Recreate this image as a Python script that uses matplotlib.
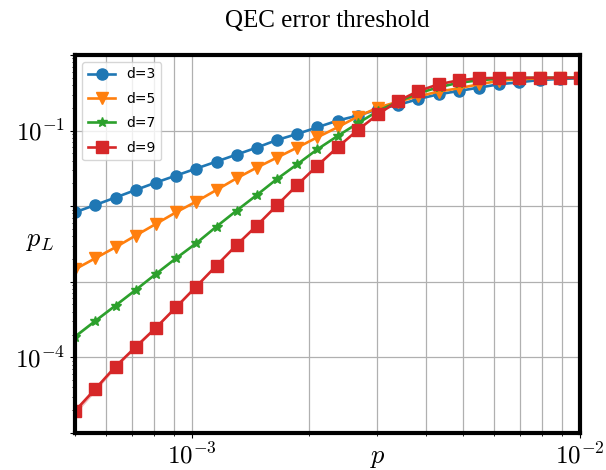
import numpy as np
import matplotlib.pyplot as plt
from matplotlib.ticker import FuncFormatter

plt.rcParams["mathtext.fontset"] = "cm"

# ---------------------------------------------------------------------------
# Data
# ---------------------------------------------------------------------------
p = [5.000e-4, 5.636e-4, 6.354e-4, 7.163e-4, 8.075e-4, 9.103e-4,
     1.026e-3, 1.157e-3, 1.304e-3, 1.470e-3, 1.657e-3, 1.868e-3,
     2.106e-3, 2.374e-3, 2.676e-3, 3.017e-3, 3.401e-3, 3.834e-3,
     4.322e-3, 4.872e-3, 5.493e-3, 6.192e-3, 6.980e-3, 7.869e-3,
     8.870e-3, 1.000e-2]

pL_d3 = [8.30e-3, 1.037e-2, 1.300e-2, 1.638e-2, 2.052e-2, 2.540e-2,
         3.143e-2, 3.890e-2, 4.815e-2, 5.959e-2, 7.509e-2, 9.02e-2,
         0.1106, 0.1356, 0.1579, 0.1913, 0.2182, 0.2618,
         0.3021, 0.3340, 0.3705, 0.4097, 0.4354, 0.4669,
         0.4815, 0.4919]

pL_d5 = [1.463e-3, 2.045e-3, 2.859e-3, 4.084e-3, 5.815e-3, 8.30e-3,
         1.150e-2, 1.638e-2, 2.339e-2, 3.240e-2, 4.394e-2, 5.959e-2,
         8.153e-2, 0.1106, 0.1532, 0.2015, 0.2418, 0.2842,
         0.3280, 0.3627, 0.4097, 0.4557, 0.4772, 0.4900,
         0.4970, 0.5000]

pL_d7 = [1.884e-4, 3.030e-4, 4.843e-4, 7.787e-4, 1.268e-3, 2.045e-3,
         3.231e-3, 5.373e-3, 8.746e-3, 1.406e-2, 2.290e-2, 3.583e-2,
         5.657e-2, 8.485e-2, 0.1249, 0.1816, 0.2418, 0.3114,
         0.3739, 0.4288, 0.4626, 0.4845, 0.4950, 0.5000,
         0.5000, 0.5000]

pL_d9 = [1.954e-5, 3.819e-5, 7.553e-5, 1.373e-4, 2.463e-4, 4.600e-4,
         8.641e-4, 1.638e-3, 3.067e-3, 5.539e-3, 1.028e-2, 1.907e-2,
         3.444e-2, 6.014e-2, 0.1018, 0.1643, 0.2463, 0.3340,
         0.4097, 0.4626, 0.4919, 0.4980, 0.5000, 0.5000,
         0.5000, 0.5000]

distances = [3, 5, 7, 9]
series = [pL_d3, pL_d5, pL_d7, pL_d9]
markers = ["o", "v", "*", "s"]
msizes = [8, 8.5, 7.5, 8]

x_labelled = [1e-3, 1e-2]
y_labelled = [1e-4, 1e-1]

shots = 5e6  # samples per point, used for the shaded error band

# ---------------------------------------------------------------------------
# Plot
# ---------------------------------------------------------------------------
fig = plt.figure(figsize=(6.06, 4.70), dpi=100)
ax = fig.add_axes([0.124, 0.079, 0.833, 0.804])

x = np.array(p)
for d, y, m, ms in zip(distances, series, markers, msizes):
    y = np.array(y)
    err = np.sqrt(y * (1 - y) / shots)
    line, = ax.plot(x, y, marker=m, markersize=ms, linewidth=1.9, label=f"d={d}")
    ax.fill_between(x, y - err, y + err, color=line.get_color(), alpha=0.3, linewidth=0)

ax.set_xscale("log")
ax.set_yscale("log")
ax.set_xlim(5e-4, 1e-2)
ax.set_ylim(1e-5, 1.0)


def decade_label(keep):
    # label only the chosen decades, leave the others blank
    def fmt(v, pos):
        for k in keep:
            if np.isclose(v, k):
                return r"$10^{%d}$" % round(np.log10(k))
        return ""
    return fmt


ax.xaxis.set_major_formatter(FuncFormatter(decade_label(x_labelled)))
ax.yaxis.set_major_formatter(FuncFormatter(decade_label(y_labelled)))

ax.grid(True, which="both", axis="x", color="#b0b0b0", linewidth=0.9)
ax.grid(True, which="major", axis="y", color="#b0b0b0", linewidth=0.9)

for s in ax.spines.values():
    s.set_linewidth(3)

ax.tick_params(axis="both", which="major", labelsize=18)

ax.set_title("QEC error threshold", family="Liberation Serif", fontsize=18, pad=20)
ax.set_xlabel("$p$", fontsize=19)
ax.xaxis.set_label_coords(0.6, -0.03)
ax.set_ylabel("$p_L$", fontsize=19, rotation=0, va="center")
ax.yaxis.set_label_coords(-0.069, 0.51)

ax.legend(loc="upper left", fontsize=10, labelspacing=0.75)

plt.savefig("out.png", dpi=100)
